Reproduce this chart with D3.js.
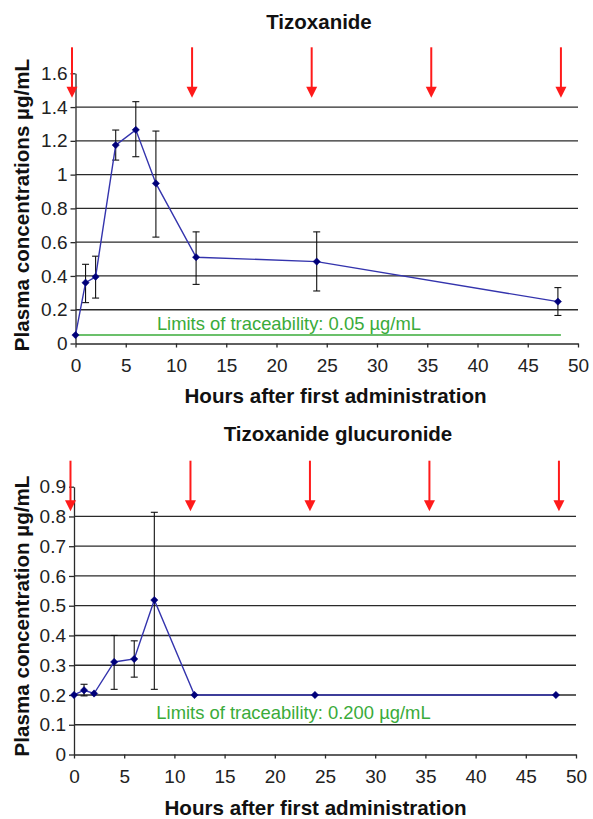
<!DOCTYPE html>
<html><head><meta charset="utf-8">
<script src="https://cdn.jsdelivr.net/npm/d3@7"></script>
<style>
body{margin:0;background:#fff}
svg{display:block}
text{font-family:"Liberation Sans",Arial,Helvetica,sans-serif}
</style>
</head><body>
<svg id="c" width="593" height="819"></svg>
<script>
// ---------- data ----------
const hours = [0, 1, 2, 4, 6, 8, 12, 24, 48];
const tizMean = [0.05, 0.36, 0.395, 1.175, 1.265, 0.948, 0.511, 0.485, 0.248];
const tizLow  = [null, 0.242, 0.269, 1.086, 1.106, 0.63, 0.35, 0.311, 0.166];
const tizHigh = [null, 0.469, 0.517, 1.264, 1.432, 1.258, 0.661, 0.661, 0.331];
const glucMean = [0.20, 0.216, 0.205, 0.311, 0.321, 0.519, 0.20, 0.20, 0.20];
const glucLow  = [null, 0.197, null, 0.219, 0.26, 0.219, null, null, null];
const glucHigh = [null, 0.236, null, 0.40, 0.382, 0.814, null, null, null];
const doseTimes = [-0.35, 11.6, 23.5, 35.4, 48.3];
const xTicks = [0, 5, 10, 15, 20, 25, 30, 35, 40, 45, 50];
const tizYTicks = [0, 0.2, 0.4, 0.6, 0.8, 1, 1.2, 1.4, 1.6];
const tizYLabels = ["0", "0.2", "0.4", "0.6", "0.8", "1", "1.2", "1.4", "1.6"];
const glucYTicks = [0, 0.1, 0.2, 0.3, 0.4, 0.5, 0.6, 0.7, 0.8, 0.9];
const glucYLabels = ["0", "0.1", "0.2", "0.3", "0.4", "0.5", "0.6", "0.7", "0.8", "0.9"];
const tizLimit = 0.05;
const tizLimitSpan = [0, 48.3];
const tizLimitText = "Limits of traceability: 0.05 µg/mL";
const glucLimitText = "Limits of traceability: 0.200 µg/mL";
const titles = ["Tizoxanide", "Tizoxanide glucuronide"];
const yTitles = ["Plasma concentrations µg/mL", "Plasma concentration µg/mL"];
const xTitle = "Hours after first administration";

// ---------- drawing ----------
const svg = d3.select("#c");
const LINE = "#3434ad", MARK = "#00007a", GREEN = "#3aab3a", GRID = "#2a2a2a", RED = "#ff1a1a";

const panels = [
  {title: titles[0], yTitle: yTitles[0], mean: tizMean, low: tizLow, high: tizHigh,
   yTicks: tizYTicks, yLabels: tizYLabels, ymax: 1.6,
   x0: 75.5, x1: 578, yBot: 343.5, yTop: 73.3,
   titleX: 319, titleY: 29, yTitleY: 205, xTitleX: 335.5, xTitleY: 403,
   limit: tizLimit, limitSpan: tizLimitSpan, limitText: tizLimitText, limitAt: [8.1, 0.08]},
  {title: titles[1], yTitle: yTitles[1], mean: glucMean, low: glucLow, high: glucHigh,
   yTicks: glucYTicks, yLabels: glucYLabels, ymax: 0.9,
   x0: 74, x1: 576, yBot: 754.5, yTop: 486.7,
   titleX: 338, titleY: 441, yTitleY: 616, xTitleX: 315.5, xTitleY: 815,
   limit: null, limitText: glucLimitText, limitAt: [8.2, 0.118]}
];

panels.forEach(p => {
  const x = d3.scaleLinear().domain([0, 50]).range([p.x0, p.x1]);
  const y = d3.scaleLinear().domain([0, p.ymax]).range([p.yBot, p.yTop]);
  const g = svg.append("g");

  // title
  g.append("text").attr("x", p.titleX).attr("y", p.titleY).attr("text-anchor", "middle")
    .attr("font-size", 20.5).attr("font-weight", "bold").attr("fill", "#111").text(p.title);

  // gridlines (exclude 0 and top)
  g.append("g").selectAll("line").data(p.yTicks.filter(v => v > 0 && v < p.ymax - 1e-9)).join("line")
    .attr("x1", p.x0).attr("x2", p.x1).attr("y1", d => y(d)).attr("y2", d => y(d))
    .attr("stroke", GRID).attr("stroke-width", 1.3);

  // y axis
  const yAxis = d3.axisLeft(y).tickValues(p.yTicks).tickFormat((d, i) => p.yLabels[i])
    .tickSize(5).tickPadding(3).tickSizeOuter(0);
  const ya = g.append("g").attr("transform", `translate(${p.x0},0)`).call(yAxis);
  ya.select(".domain").attr("stroke", GRID).attr("stroke-width", 1.3);
  ya.selectAll(".tick line").attr("stroke", GRID).attr("stroke-width", 1.3);
  ya.selectAll(".tick text").attr("font-size", 19).attr("fill", "#222")
    .attr("font-family", '"Liberation Sans",Arial,sans-serif');

  // x axis
  const xAxis = d3.axisBottom(x).tickValues(xTicks).tickSize(4).tickPadding(11).tickSizeOuter(0);
  const xa = g.append("g").attr("transform", `translate(0,${p.yBot})`).call(xAxis);
  xa.select(".domain").attr("stroke", GRID).attr("stroke-width", 1.3);
  xa.selectAll(".tick line").attr("stroke", GRID).attr("stroke-width", 1.3);
  xa.selectAll(".tick text").attr("font-size", 19).attr("fill", "#222")
    .attr("font-family", '"Liberation Sans",Arial,sans-serif');

  // limit line + text
  if (p.limit !== null) {
    g.append("line").attr("x1", x(p.limitSpan[0])).attr("x2", x(p.limitSpan[1]))
      .attr("y1", y(p.limit)).attr("y2", y(p.limit)).attr("stroke", GREEN).attr("stroke-width", 1.6);
  }
  g.append("text").attr("x", x(p.limitAt[0])).attr("y", y(p.limitAt[1]))
    .attr("font-size", 18.4).attr("fill", GREEN).text(p.limitText);

  // error bars
  const eb = hours.map((h, i) => ({h, lo: p.low[i], hi: p.high[i]})).filter(d => d.lo !== null);
  const ebg = g.append("g").attr("stroke", "#111").attr("stroke-width", 1.1);
  eb.forEach(d => {
    ebg.append("line").attr("x1", x(d.h)).attr("x2", x(d.h)).attr("y1", y(d.lo)).attr("y2", y(d.hi));
    ebg.append("line").attr("x1", x(d.h) - 3.5).attr("x2", x(d.h) + 3.5).attr("y1", y(d.lo)).attr("y2", y(d.lo));
    ebg.append("line").attr("x1", x(d.h) - 3.5).attr("x2", x(d.h) + 3.5).attr("y1", y(d.hi)).attr("y2", y(d.hi));
  });

  // series line
  const pts = hours.map((h, i) => [h, p.mean[i]]);
  g.append("path").datum(pts)
    .attr("d", d3.line().x(d => x(d[0])).y(d => y(d[1])))
    .attr("fill", "none").attr("stroke", LINE).attr("stroke-width", 1.4);

  // markers
  g.append("g").selectAll("path").data(pts).join("path")
    .attr("transform", d => `translate(${x(d[0])},${y(d[1])})`)
    .attr("d", d3.symbol().type(d3.symbolDiamond2).size(34))
    .attr("fill", MARK).attr("stroke", MARK).attr("stroke-width", 0.5);

  // dose arrows
  const ag = g.append("g");
  doseTimes.forEach(t => {
    const ax = x(t);
    const top = p.yTop - 26, tip = p.yTop + 24.5;
    ag.append("line").attr("x1", ax).attr("x2", ax).attr("y1", top).attr("y2", tip - 9)
      .attr("stroke", RED).attr("stroke-width", 2);
    ag.append("path").attr("d", `M${ax - 5.5},${tip - 11}L${ax + 5.5},${tip - 11}L${ax},${tip}Z`)
      .attr("fill", RED);
  });

  // axis titles
  g.append("text").attr("transform", `translate(29,${p.yTitleY}) rotate(-90)`)
    .attr("text-anchor", "middle").attr("font-size", 20.6).attr("font-weight", "bold")
    .attr("fill", "#111").text(p.yTitle);
  g.append("text").attr("x", p.xTitleX).attr("y", p.xTitleY).attr("text-anchor", "middle")
    .attr("font-size", 20.6).attr("font-weight", "bold").attr("fill", "#111").text(xTitle);
});
</script>
</body></html>
